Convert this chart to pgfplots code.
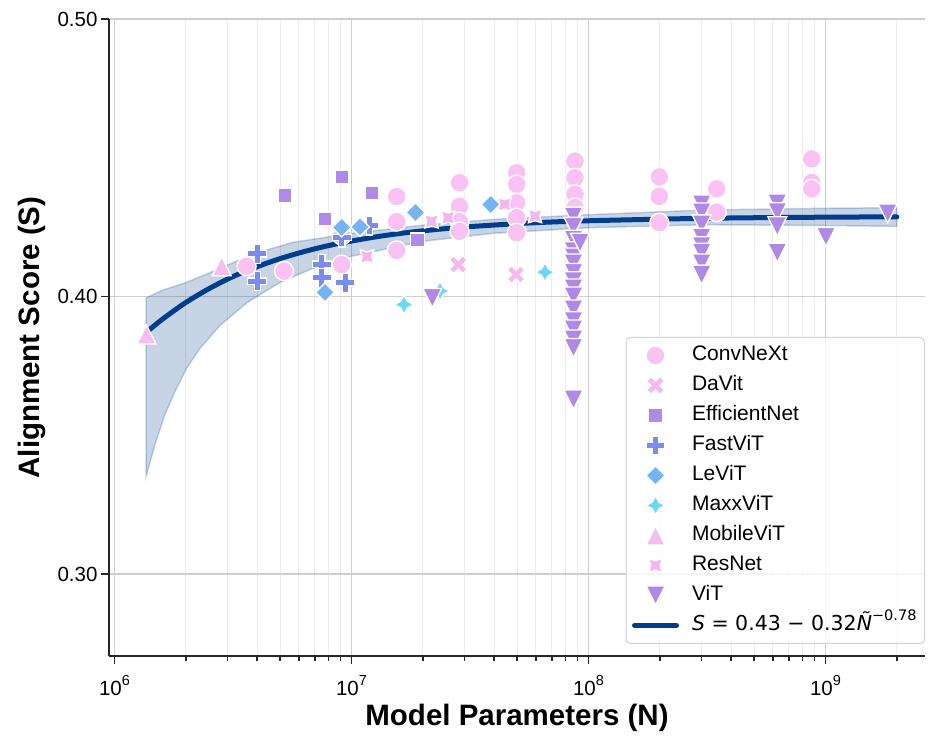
\documentclass[border=0pt]{standalone}
\usepackage{fontspec}
\setmainfont{Liberation Sans}
\newfontfamily\dejavu{DejaVu Sans}
\usepackage{pgfplots}
\pgfplotsset{compat=1.18}

\definecolor{cConvNeXt}{RGB}{249,194,242}
\definecolor{cDaVit}{RGB}{247,184,240}
\definecolor{cEffNet}{RGB}{176,138,232}
\definecolor{cFastViT}{RGB}{122,140,240}
\definecolor{cLeViT}{RGB}{116,180,242}
\definecolor{cMaxxViT}{RGB}{106,216,246}
\definecolor{cMobileViT}{RGB}{247,188,240}
\definecolor{cResNet}{RGB}{245,182,238}
\definecolor{cViT}{RGB}{176,136,230}
\definecolor{fitblue}{RGB}{0,61,140}
\definecolor{spine}{RGB}{38,38,38}
\definecolor{majgrid}{RGB}{206,206,206}
\definecolor{mingrid}{RGB}{236,236,236}
\definecolor{legendgray}{RGB}{210,210,210}

% filled markers in the seaborn style; \pgfplotmarksize is half the marker size
\def\mk#1#2{\pgfqpoint{#1\pgfplotmarksize}{#2\pgfplotmarksize}}
\pgfdeclareplotmark{sbplus}{%
  \pgfpathmoveto{\mk{-0.3333}{-1}}\pgfpathlineto{\mk{0.3333}{-1}}%
  \pgfpathlineto{\mk{0.3333}{-0.3333}}\pgfpathlineto{\mk{1}{-0.3333}}%
  \pgfpathlineto{\mk{1}{0.3333}}\pgfpathlineto{\mk{0.3333}{0.3333}}%
  \pgfpathlineto{\mk{0.3333}{1}}\pgfpathlineto{\mk{-0.3333}{1}}%
  \pgfpathlineto{\mk{-0.3333}{0.3333}}\pgfpathlineto{\mk{-1}{0.3333}}%
  \pgfpathlineto{\mk{-1}{-0.3333}}\pgfpathlineto{\mk{-0.3333}{-0.3333}}%
  \pgfpathclose\pgfusepathqfillstroke}
\pgfdeclareplotmark{sbx}{%
  \pgfpathmoveto{\mk{0.4714}{-0.9428}}\pgfpathlineto{\mk{0.9428}{-0.4714}}%
  \pgfpathlineto{\mk{0.4714}{0}}\pgfpathlineto{\mk{0.9428}{0.4714}}%
  \pgfpathlineto{\mk{0.4714}{0.9428}}\pgfpathlineto{\mk{0}{0.4714}}%
  \pgfpathlineto{\mk{-0.4714}{0.9428}}\pgfpathlineto{\mk{-0.9428}{0.4714}}%
  \pgfpathlineto{\mk{-0.4714}{0}}\pgfpathlineto{\mk{-0.9428}{-0.4714}}%
  \pgfpathlineto{\mk{-0.4714}{-0.9428}}\pgfpathlineto{\mk{0}{-0.4714}}%
  \pgfpathclose\pgfusepathqfillstroke}
\pgfdeclareplotmark{sbsquare}{%
  \pgfpathmoveto{\mk{-0.7071}{-0.7071}}\pgfpathlineto{\mk{0.7071}{-0.7071}}%
  \pgfpathlineto{\mk{0.7071}{0.7071}}\pgfpathlineto{\mk{-0.7071}{0.7071}}%
  \pgfpathclose\pgfusepathqfillstroke}
\pgfdeclareplotmark{sbdiamond}{%
  \pgfpathmoveto{\mk{0}{1}}\pgfpathlineto{\mk{1}{0}}%
  \pgfpathlineto{\mk{0}{-1}}\pgfpathlineto{\mk{-1}{0}}%
  \pgfpathclose\pgfusepathqfillstroke}
\pgfdeclareplotmark{sbstar}{%
  \pgfpathmoveto{\mk{0}{1}}\pgfpathlineto{\mk{0.3536}{0.3536}}%
  \pgfpathlineto{\mk{1}{0}}\pgfpathlineto{\mk{0.3536}{-0.3536}}%
  \pgfpathlineto{\mk{0}{-1}}\pgfpathlineto{\mk{-0.3536}{-0.3536}}%
  \pgfpathlineto{\mk{-1}{0}}\pgfpathlineto{\mk{-0.3536}{0.3536}}%
  \pgfpathclose\pgfusepathqfillstroke}
\pgfdeclareplotmark{sbstarx}{%
  \pgfpathmoveto{\mk{0.7071}{0.7071}}\pgfpathlineto{\mk{0.5}{0}}%
  \pgfpathlineto{\mk{0.7071}{-0.7071}}\pgfpathlineto{\mk{0}{-0.5}}%
  \pgfpathlineto{\mk{-0.7071}{-0.7071}}\pgfpathlineto{\mk{-0.5}{0}}%
  \pgfpathlineto{\mk{-0.7071}{0.7071}}\pgfpathlineto{\mk{0}{0.5}}%
  \pgfpathclose\pgfusepathqfillstroke}
\pgfdeclareplotmark{sbtriup}{%
  \pgfpathmoveto{\mk{0}{1}}\pgfpathlineto{\mk{-1}{-1}}\pgfpathlineto{\mk{1}{-1}}%
  \pgfpathclose\pgfusepathqfillstroke}
\pgfdeclareplotmark{sbtridown}{%
  \pgfpathmoveto{\mk{0}{-1}}\pgfpathlineto{\mk{-1}{1}}\pgfpathlineto{\mk{1}{1}}%
  \pgfpathclose\pgfusepathqfillstroke}

\pgfplotsset{
  family/.style 2 args={only marks, mark=#1, mark size=9.5pt,
    mark options={fill=#2, draw=white, line width=1.3pt, fill opacity=1, draw opacity=1}},
}
\def\pw#1{10\raisebox{0.5em}{\fontsize{14.5}{14.5}\selectfont #1}}

\begin{document}
\begin{tikzpicture}
\useasboundingbox (0,0) rectangle (930pt,739pt);
\begin{axis}[
  at={(109pt,83pt)}, anchor=south west,
  width=816pt, height=637pt, scale only axis,
  xmode=log, xmin=9.48e5, xmax=2.63e9, ymin=0.2705, ymax=0.5,
  axis lines=left, axis line style={-, spine, line width=2pt},
  xtick={1e6,1e7,1e8,1e9},
  xticklabels={\pw{6},\pw{7},\pw{8},\pw{9}},
  minor xtick={2e6,3e6,4e6,5e6,6e6,7e6,8e6,9e6,2e7,3e7,4e7,5e7,6e7,7e7,8e7,9e7,
               2e8,3e8,4e8,5e8,6e8,7e8,8e8,9e8,2e9},
  ytick={0.3,0.4,0.5},
  yticklabels={0.30,0.40,0.50},
  tick align=outside, major tick length=8pt, minor tick length=5pt,
  every tick/.style={spine, line width=1.6pt},
  xmajorgrids, xminorgrids, ymajorgrids,
  major grid style={majgrid, line width=1.3pt},
  minor grid style={mingrid, line width=1pt},
  ticklabel style={font=\fontsize{20.5}{24}\selectfont},
  xticklabel style={yshift=-8pt},
  xlabel={Model Parameters (N)},
  ylabel={Alignment Score (S)},
  label style={font=\bfseries\fontsize{29.5}{34}\selectfont},
  xlabel style={at={(axis description cs:0.5,-0.0973)}, anchor=center},
  ylabel style={at={(axis description cs:-0.0944,0.5)}, anchor=center},
  legend cell align=left,
  legend style={
    at={(axis description cs:1,0.5008)}, anchor=north east,
    draw=legendgray, line width=1pt, rounded corners=4pt,
    fill=white, fill opacity=0.8, text opacity=1, draw opacity=1,
    font=\fontsize{21}{25}\selectfont,
    inner xsep=6pt, inner ysep=6pt, row sep=6pt,
    nodes={inner sep=2pt, text height=15pt, text depth=5pt},
    /tikz/every odd column/.append style={column sep=11pt},
  },
]

% ConvNeXt
\addplot[family={*}{cConvNeXt}] coordinates {
  (3.61e6,0.4109) (5.19e6,0.4092) (9.09e6,0.4220) (9.09e6,0.4115)
  (1.551e7,0.4360) (1.551e7,0.4270) (1.551e7,0.4166)
  (2.856e7,0.4410) (2.856e7,0.4325) (2.856e7,0.4270) (2.856e7,0.4235)
  (4.977e7,0.4446) (4.977e7,0.4404) (4.977e7,0.4338) (4.977e7,0.4284) (4.977e7,0.4230)
  (8.77e7,0.4488) (8.77e7,0.4428) (8.77e7,0.4368) (8.77e7,0.4321)
  (1.99e8,0.4431) (1.99e8,0.4361) (1.99e8,0.4266)
  (3.475e8,0.4388) (3.475e8,0.4304)
  (8.75e8,0.4496) (8.75e8,0.4411) (8.75e8,0.4388)
};
\addlegendentry{ConvNeXt}

% DaVit
\addplot[family={sbx}{cDaVit}] coordinates {
  (2.822e7,0.4115) (4.944e7,0.4079)
};
\addlegendentry{DaVit}

% EfficientNet
\addplot[family={sbsquare}{cEffNet}] coordinates {
  (5.24e6,0.4364) (7.73e6,0.4280) (9.09e6,0.4430) (1.217e7,0.4374) (1.899e7,0.4205)
};
\addlegendentry{EfficientNet}

% FastViT
\addplot[family={sbplus}{cFastViT}] coordinates {
  (4.005e6,0.4154) (4.005e6,0.4055) (7.49e6,0.4117) (7.49e6,0.4067)
  (9.39e6,0.4049) (9.09e6,0.4213) (1.19e7,0.4256)
};
\addlegendentry{FastViT}

% LeViT
\addplot[family={sbdiamond}{cLeViT}] coordinates {
  (7.73e6,0.4015) (9.09e6,0.4249) (1.086e7,0.4251) (1.862e7,0.4303) (3.867e7,0.4332)
};
\addlegendentry{LeViT}

% MaxxViT
\addplot[family={sbstar}{cMaxxViT}] coordinates {
  (1.666e7,0.3971) (2.363e7,0.4020) (6.554e7,0.4088)
};
\addlegendentry{MaxxViT}

% MobileViT
\addplot[family={sbtriup}{cMobileViT}] coordinates {
  (1.365e6,0.3863) (2.834e6,0.4109)
};
\addlegendentry{MobileViT}

% ResNet
\addplot[family={sbstarx}{cResNet}] coordinates {
  (1.162e7,0.4144) (2.176e7,0.4271) (2.554e7,0.4284) (4.422e7,0.4332) (5.95e7,0.4290)
};
\addlegendentry{ResNet}

% ViT
\addplot[family={sbtridown}{cViT}] coordinates {
  (2.192e7,0.3995)
  (8.645e7,0.4288) (8.645e7,0.4251) (8.645e7,0.4205) (8.645e7,0.4163)
  (8.645e7,0.4141) (8.645e7,0.4119) (8.645e7,0.4085) (8.645e7,0.4055)
  (8.645e7,0.4029) (8.645e7,0.4000) (8.645e7,0.3953) (8.645e7,0.3911)
  (8.645e7,0.3881) (8.645e7,0.3845) (8.645e7,0.3815) (8.645e7,0.3629)
  (9.21e7,0.4194)
  (3.003e8,0.4332) (3.003e8,0.4303) (3.003e8,0.4260) (3.003e8,0.4212)
  (3.003e8,0.4181) (3.003e8,0.4158) (3.003e8,0.4119) (3.003e8,0.4079)
  (6.261e8,0.4335) (6.261e8,0.4304) (6.261e8,0.4253) (6.261e8,0.4158)
  (1.005e9,0.4215) (1.830e9,0.4299)
};
\addlegendentry{ViT}

% uncertainty band of the fit
\addplot[forget plot, fill=fitblue, fill opacity=0.22, draw=fitblue, draw opacity=0.21, line width=1.5pt]
coordinates {
  (1.358e6,0.3995) (1.585e6,0.4022) (1.995e6,0.4050) (2.512e6,0.4085) (3.162e6,0.4122)
  (3.981e6,0.4157) (5.623e6,0.4195) (1e7,0.4228) (1.995e7,0.4257) (3.981e7,0.4278)
  (1e8,0.4295) (3.162e8,0.4312) (1e9,0.4318) (2e9,0.4320)
  (2e9,0.4253) (1e9,0.4256) (3.162e8,0.4259) (1e8,0.4248) (3.981e7,0.4228)
  (1.995e7,0.4199) (9.856e6,0.4144) (7.015e6,0.4105) (4.993e6,0.4051) (3.623e6,0.3978)
  (2.787e6,0.3896) (2.295e6,0.3813) (2.022e6,0.3744) (1.800e6,0.3658) (1.633e6,0.3575)
  (1.482e6,0.3467) (1.358e6,0.3351)
} -- cycle;

% fitted scaling law
\addplot[fitblue, line width=5pt, no marks, smooth, line cap=round,
  legend image code/.code={\draw[fitblue, line width=5pt, line cap=round] (0.3cm-21pt,0pt) -- (0.3cm+21pt,0pt);}]
coordinates {
  (1.358e6,0.3870) (1.585e6,0.3917) (1.995e6,0.3978) (2.512e6,0.4029) (3.162e6,0.4072)
  (3.981e6,0.4107) (5.012e6,0.4137) (6.310e6,0.4162) (7.943e6,0.4183) (1e7,0.4200)
  (1.334e7,0.4218) (1.778e7,0.4232) (2.371e7,0.4243) (3.162e7,0.4252) (5.623e7,0.4265)
  (1e8,0.4273) (3.162e8,0.4282) (1e9,0.4286) (2e9,0.4287)
};
\addlegendentry{{\dejavu\fontsize{20.5}{24}\selectfont\textit{S} = 0.43 − 0.32\textit{Ñ}\raisebox{0.5em}{\fontsize{14.5}{14.5}\selectfont −0.78}}}

\end{axis}
\end{tikzpicture}
\end{document}
